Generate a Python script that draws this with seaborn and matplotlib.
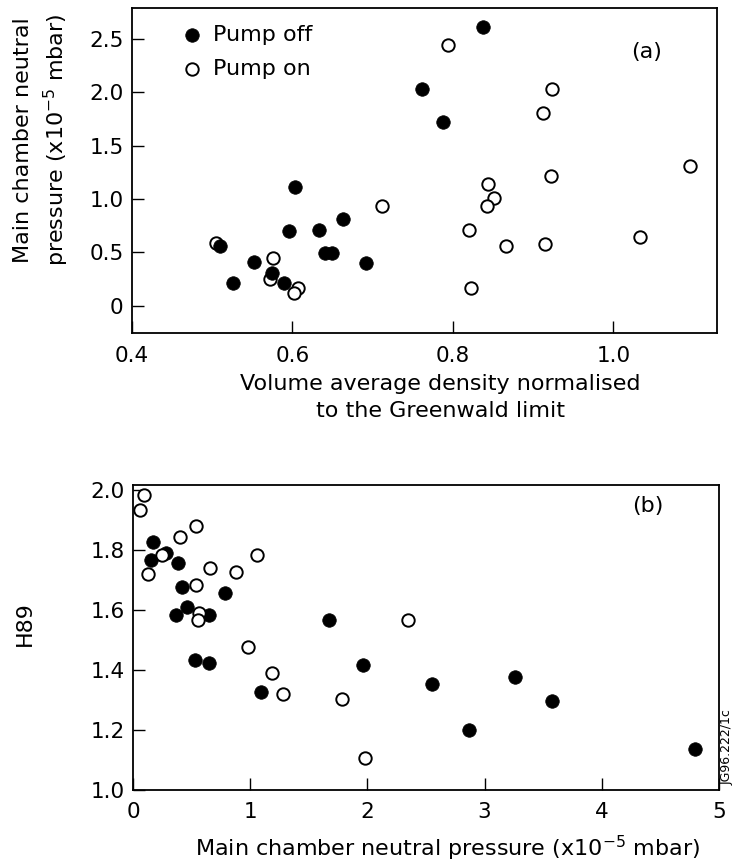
import numpy as np
import pandas as pd
import seaborn as sns
import matplotlib.pyplot as plt

# Panel (a): density vs main chamber pressure
a_off_x = [0.762, 0.838, 0.788, 0.603, 0.596, 0.633, 0.663, 0.640, 0.649, 0.691,
           0.510, 0.552, 0.575, 0.526, 0.589]
a_off_y = [2.03, 2.61, 1.72, 1.11, 0.70, 0.71, 0.81, 0.49, 0.49, 0.40,
           0.56, 0.41, 0.31, 0.21, 0.21]
a_on_x = [0.505, 0.712, 0.576, 0.572, 0.607, 0.602, 0.794, 0.924, 0.912, 1.095,
          0.922, 0.844, 0.851, 0.843, 0.820, 0.866, 0.915, 1.033, 0.822]
a_on_y = [0.59, 0.93, 0.45, 0.25, 0.17, 0.12, 2.44, 2.03, 1.81, 1.31,
          1.22, 1.14, 1.01, 0.93, 0.71, 0.56, 0.58, 0.64, 0.17]

# Panel (b): pressure vs H89
b_off_x = [0.168, 0.151, 0.282, 0.381, 0.415, 0.458, 0.367, 0.651, 0.785, 0.529,
           0.651, 1.089, 1.669, 1.965, 2.554, 3.259, 3.578, 2.867, 4.795]
b_off_y = [1.825, 1.768, 1.790, 1.757, 1.675, 1.611, 1.584, 1.584, 1.656, 1.433,
           1.422, 1.325, 1.565, 1.416, 1.352, 1.377, 1.296, 1.199, 1.135]
b_on_x = [0.094, 0.060, 0.535, 0.401, 0.245, 0.125, 1.055, 0.657, 0.879, 0.535,
          0.563, 0.552, 0.978, 1.183, 1.277, 1.781, 1.980, 2.349]
b_on_y = [1.985, 1.932, 1.881, 1.843, 1.784, 1.720, 1.784, 1.740, 1.728, 1.684,
          1.589, 1.567, 1.476, 1.389, 1.319, 1.303, 1.104, 1.567]

a_xticks = [0.4, 0.6, 0.8, 1.0]
a_xticklabels = ["0.4", "0.6", "0.8", "1.0"]
a_yticks = [0, 0.5, 1.0, 1.5, 2.0, 2.5]
a_yticklabels = ["0", "0.5", "1.0", "1.5", "2.0", "2.5"]
b_xticks = [0, 1, 2, 3, 4, 5]
b_xticklabels = ["0", "1", "2", "3", "4", "5"]
b_yticks = [1.0, 1.2, 1.4, 1.6, 1.8, 2.0]
b_yticklabels = ["1.0", "1.2", "1.4", "1.6", "1.8", "2.0"]

sns.set_style("ticks")
plt.rcParams['font.family'] = ['DejaVu Sans']
plt.rcParams['mathtext.fontset'] = 'dejavusans'
plt.rcParams['text.color'] = 'black'
plt.rcParams['axes.labelcolor'] = 'black'

W, H = 734, 863
fig = plt.figure(figsize=(W / 100, H / 100), dpi=100)
ax_a = fig.add_axes([132 / W, 1 - 333 / H, 585 / W, 325 / H])
ax_b = fig.add_axes([133 / W, 1 - 789.5 / H, 586 / W, 304.5 / H])

filled = dict(color="black", edgecolor="black", s=95, linewidth=0.5, zorder=3)
hollow = dict(color="white", edgecolor="black", s=80, linewidth=1.4, zorder=3)

# panel a: open first, filled on top
sns.scatterplot(x=a_on_x, y=a_on_y, ax=ax_a, label="Pump on", **hollow)
sns.scatterplot(x=a_off_x, y=a_off_y, ax=ax_a, label="Pump off", **filled)
# panel b: filled first, open on top
sns.scatterplot(x=b_off_x, y=b_off_y, ax=ax_b, **filled)
sns.scatterplot(x=b_on_x, y=b_on_y, ax=ax_b, **hollow)

tick_fs = 15.5
lab_fs = 16

ax_a.set_xlim(0.4, 1.129)
ax_a.set_ylim(-0.256, 2.79)
ax_a.set_xticks(a_xticks)
ax_a.set_xticklabels(a_xticklabels)
ax_a.set_yticks(a_yticks)
ax_a.set_yticklabels(a_yticklabels)

ax_b.set_xlim(0, 5)
ax_b.set_ylim(1.0, 2.017)
ax_b.set_xticks(b_xticks)
ax_b.set_xticklabels(b_xticklabels)
ax_b.set_yticks(b_yticks)
ax_b.set_yticklabels(b_yticklabels)

for ax in (ax_a, ax_b):
    ax.tick_params(direction="in", length=8.5, width=1.0, labelsize=tick_fs,
                   colors="black")
    ax.tick_params(axis="x", pad=9)
    ax.tick_params(axis="y", pad=6)
    for sp in ax.spines.values():
        sp.set_visible(True)
        sp.set_linewidth(1.3)
        sp.set_color("black")

ax_a.set_ylabel("Main chamber neutral\npressure (x10$^{-5}$ mbar)", fontsize=lab_fs,
                linespacing=1.4)
ax_a.yaxis.set_label_coords(-0.104, 0.594)
ax_a.set_xlabel("Volume average density normalised\nto the Greenwald limit",
                fontsize=lab_fs, linespacing=1.4)
ax_a.xaxis.set_label_coords(0.527, -0.127)

ax_b.set_ylabel("H89", fontsize=lab_fs)
ax_b.yaxis.set_label_coords(-0.168, 0.545)
ax_b.set_xlabel("Main chamber neutral pressure (x10$^{-5}$ mbar)", fontsize=lab_fs)
ax_b.xaxis.set_label_coords(0.537, -0.144)

handles, labels = ax_a.get_legend_handles_labels()
order = [labels.index("Pump off"), labels.index("Pump on")]
ax_a.legend([handles[i] for i in order], [labels[i] for i in order],
            loc="upper left", bbox_to_anchor=(0.05, 0.995), frameon=False,
            fontsize=lab_fs, handlelength=1.4, handletextpad=0.25,
            labelspacing=0.6, borderaxespad=0.3, markerscale=1.0)

ax_a.text(0.880, 0.865, "(a)", transform=ax_a.transAxes, fontsize=lab_fs,
          ha="center", va="center")
ax_b.text(0.879, 0.931, "(b)", transform=ax_b.transAxes, fontsize=lab_fs,
          ha="center", va="center")

fig.text(721 / W, 1 - 785 / H, "JG96.222/1c", rotation=90, fontsize=9,
         ha="left", va="bottom")

fig.savefig("out.png", dpi=100)
